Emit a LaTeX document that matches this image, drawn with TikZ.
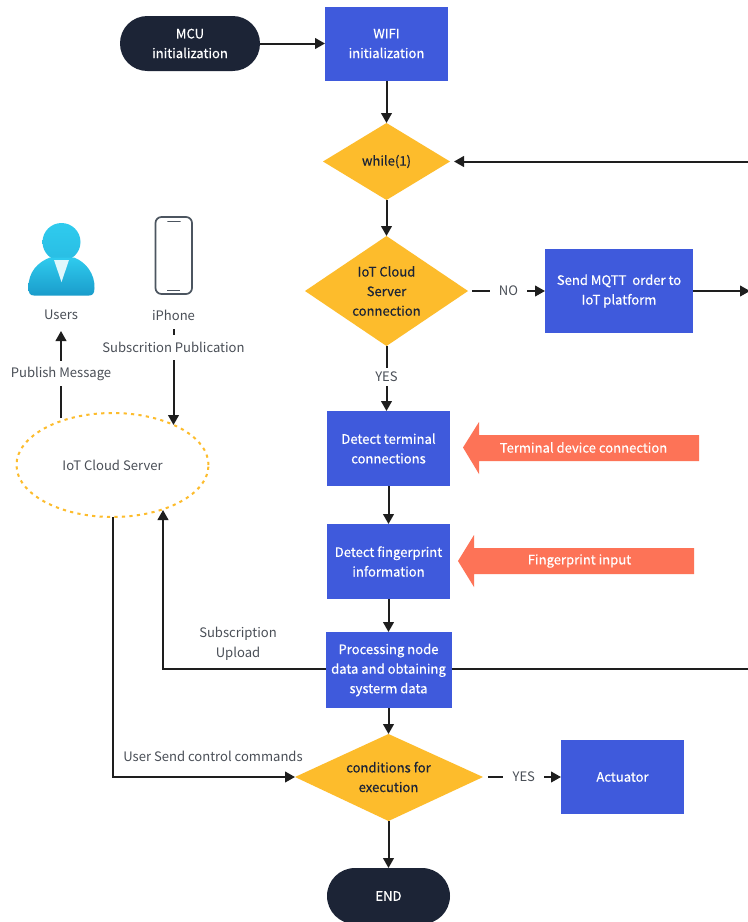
\documentclass[tikz,border=0pt]{standalone}
\usepackage{fontspec}
\setmainfont{Noto Sans CJK SC}
\newfontfamily\medfont[FakeBold=0.35]{Noto Sans CJK SC}
\usetikzlibrary{arrows.meta,shapes.geometric,calc}
\definecolor{navy}{HTML}{1C2436}
\definecolor{boxblue}{HTML}{3F5ADC}
\definecolor{gold}{HTML}{FDBC2C}
\definecolor{coral}{HTML}{FD7357}
\definecolor{labelgray}{HTML}{4A4F57}
\definecolor{linedark}{HTML}{1E1E1E}
\definecolor{cyantop}{HTML}{2FCBEE}
\definecolor{cyanbot}{HTML}{1A9CCB}
\definecolor{phonegray}{HTML}{4C5560}
\tikzset{
  x=0.75pt,y=-0.75pt,
  every node/.style={font=\fontsize{9.8pt}{14.7pt}\selectfont,align=center,inner sep=0pt,outer sep=0pt},
  pill/.style={rectangle,rounded corners=20.5pt,fill=navy,text=white,font=\fontsize{9.8pt}{14.7pt}\medfont},
  bluebox/.style={rectangle,fill=boxblue,text=white,font=\fontsize{9.8pt}{14.7pt}\medfont},
  golddia/.style={text=navy,font=\fontsize{9.8pt}{14.7pt}\medfont},
  whitelab/.style={text=white,font=\fontsize{9.8pt}{14.7pt}\medfont},
  lab/.style={text=labelgray},
  labw/.style={text=labelgray,fill=white,inner xsep=1pt,minimum height=19pt},
  conn/.style={draw=linedark,line width=1.5pt,-{Triangle[length=7.5pt,width=8pt]}},
  plain/.style={draw=linedark,line width=1.5pt},
}
\begin{document}
\begin{tikzpicture}
\useasboundingbox (0,0) rectangle (748,922);
\clip (0,0) rectangle (748,922);
\fill[white] (0,0) rectangle (748,922);

% flow nodes
\node[pill,minimum width=105pt,minimum height=41.25pt] (mcu) at (190,43.5) {MCU\\initialization};
\node[bluebox,minimum width=92.25pt,minimum height=55.5pt] (wifi) at (386.5,43.5) {WIFI\\initialization};

\fill[gold] (386.5,123) -- (450,161.5) -- (386.5,200) -- (323,161.5) -- cycle;
\node[golddia] (while) at (386.5,161.5) {while(1)};
\coordinate (whileN) at (386.5,123);
\coordinate (whileS) at (386.5,200);
\coordinate (whileE) at (454,161.5);

\fill[gold] (386.5,236) -- (468,291) -- (386.5,346) -- (305,291) -- cycle;
\node[golddia] (iot) at (386.5,291) {IoT Cloud\\Server\\connection};
\coordinate (iotN) at (386.5,236);
\coordinate (iotS) at (386.5,346);
\coordinate (iotE) at (468,291);

\node[bluebox,minimum width=111pt,minimum height=63pt] (send) at (619,291) {Send MQTT~ order to\\IoT platform};
\node[bluebox,minimum width=92.25pt,minimum height=56.25pt] (term) at (388.5,448.5) {Detect terminal\\connections};
\node[bluebox,minimum width=92.25pt,minimum height=56.25pt] (finger) at (388.5,561.5) {Detect fingerprint\\information};
\node[bluebox,minimum width=94.5pt,minimum height=57pt] (proc) at (388.5,670) {Processing node\\data and obtaining\\systerm data};

\fill[gold] (388.5,734) -- (483,777) -- (388.5,821) -- (295,777) -- cycle;
\node[golddia] (cond) at (388.5,777) {conditions for\\execution};
\coordinate (condN) at (388.5,734);
\coordinate (condS) at (388.5,821);
\coordinate (condE) at (483,777);
\coordinate (condW) at (295,777);

\node[bluebox,minimum width=92.25pt,minimum height=55.5pt] (act) at (622.5,777) {Actuator};
\node[pill,rounded corners=21pt,minimum width=92.25pt,minimum height=42pt,anchor=north] (endn) at (388.5,868) {};
\node[whitelab] (endt) at (388.5,896) {END};

% coral arrows
\fill[coral] (463,447.5) -- (479,422) -- (479,435) -- (699,435) -- (699,461) -- (479,461) -- (479,474) -- cycle;
\node[whitelab] (tdc) at (583.5,447.5) {Terminal device connection};
\fill[coral] (458,561) -- (474,535) -- (474,548) -- (694,548) -- (694,574) -- (474,574) -- (474,587) -- cycle;
\node[whitelab] (fpi) at (579.5,561) {Fingerprint input};

% cloud
\node[ellipse,draw=gold,line width=1.5pt,dash pattern=on 2.4pt off 3.2pt,minimum width=144pt,minimum height=78pt,text=labelgray] (cloud) at (112.5,465) {IoT Cloud Server};

% users icon
\begin{scope}
  \shade[top color=cyantop,bottom color=cyantop!70!cyanbot] (61.5,242) circle[radius=19];
  \shade[top color=cyantop,bottom color=cyanbot]
    (28.5,288) .. controls (28,272) and (38,262) .. (50,257.5) -- (74,257.5)
    .. controls (86,262) and (95,274) .. (94.5,288)
    .. controls (94.5,294) and (92,295.5) .. (89,295.5) -- (34,295.5)
    .. controls (30,295.5) and (28.5,293) .. (28.5,288) -- cycle;
  \fill[white!85!cyantop] (54,260) -- (69,260) -- (61.5,282) -- cycle;
\end{scope}
% phone icon
\draw[phonegray,line width=1.3pt,fill=white,rounded corners=4.5pt] (155.5,217) rectangle (192,294);
\draw[phonegray,line width=1.4pt,line cap=round] (168,221.5) -- (180,221.5);
\draw[phonegray,line width=0.5pt] (167,290) -- (180,290);

\node[lab] (users) at (61,315) {Users};
\node[lab] (iphone) at (173.5,315) {iPhone};

% connectors
\draw[conn] (mcu.east) -- (wifi.west);
\draw[conn] (wifi.south) -- (whileN);
\coordinate (rtop) at (748,161.5);
\draw[conn] (rtop) -- (whileE);
\draw[conn] (whileS) -- (iotN);
\draw[conn] (iotE) ++(4,0) -- (send.west) node[pos=0.5,fill=white,text=labelgray,inner xsep=7pt,inner ysep=3pt] (nolab) {NO};
\coordinate (rsend) at (750,291);
\draw[conn] (send.east) -- (rsend);
\draw[conn] (iotS) -- (iotS |- term.north) node[pos=0.48,fill=white,text=labelgray,inner xsep=2pt,inner ysep=3pt] (yeslab) {YES};
\draw[conn] (term.south) -- (finger.north);
\draw[conn] (finger.south) -- (proc.north);
\draw[conn] (proc.south) -- (condN);
\draw[conn] (condS) -- (endn.north);
\draw[conn] (condE) ++(5,0) -- (act.west) node[pos=0.49,fill=white,text=labelgray,inner xsep=7pt,inner ysep=3pt] (yeslab2) {YES};
\coordinate (rproc) at (748,669);
\draw[plain] (proc.east |- rproc) -- (rproc);
\coordinate (cloudA) at (163,510);
\draw[conn] (proc.west |- rproc) -| (cloudA);
\node[lab] (sub) at (238,644) {Subscription\\Upload};
\coordinate (cloudB) at (113,517);
\draw[conn] (cloudB) |- (condW);
\node[lab] (ucc) at (213,756) {User Send control commands};
\coordinate (cloudC) at (61,418);
\coordinate (usersS) at (61,331);
\draw[conn] (cloudC) -- (usersS) node[pos=0.51,labw] (pub) {Publish Message};
\coordinate (cloudD) at (173.5,425);
\coordinate (iphoneS) at (173.5,329);
\draw[conn] (iphoneS) -- (cloudD) node[pos=0.19,labw] (subpub) {Subscrition Publication};
\end{tikzpicture}
\end{document}
